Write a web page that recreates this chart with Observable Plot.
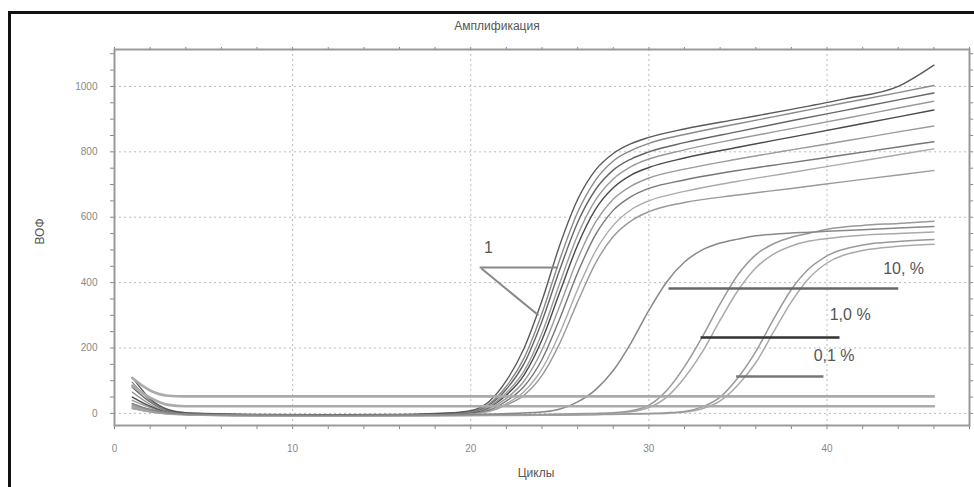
<!DOCTYPE html>
<html><head><meta charset="utf-8">
<script src="https://cdn.jsdelivr.net/npm/d3@7"></script>
<script src="https://cdn.jsdelivr.net/npm/@observablehq/plot@0.6"></script>
<style>
html,body{margin:0;padding:0;background:#fff;}
#wrap{position:relative;width:974px;height:487px;overflow:hidden;font-family:"Liberation Sans",Arial,sans-serif;}
#chart{position:absolute;left:0;top:0;}
#border{position:absolute;left:8px;top:11px;width:1000px;height:500px;border-top:3px solid #111;border-left:3px solid #111;}
#title{position:absolute;left:0;width:994px;top:19px;text-align:center;font-size:12px;color:#555;}
</style></head><body>
<div id="wrap"><div id="chart"></div><div id="border"></div><div id="title">Амплификация</div></div>
<script>
// ---- data ----
const cyclesA = [1,2,3,4,5,8,12,16,19,20,21,22,23,24,25,26,27,28,29,30,32,35,38,41,44,46];
const a1 = [110,45,12,2,0,-3,-4,-3,2, 8,35,100,200,345,515,654,744,795,825,844, 870,900,930,962,1000,1065];
const a2 = [95,40,10,2,-1,-4,-5,-4,1, 6,28,83,170,306,471,615,713,772,804,826, 853,886,918,950,981,1003];
const a3 = [80,35,8,0,-2,-5,-6,-4,1, 5,25,74,153,282,440,584,684,744,778,800, 828,862,895,927,959,980];
const a4 = [65,28,6,0,-3,-6,-6,-5,0, 4,20,63,130,246,399,545,652,717,755,778, 806,840,871,902,934,955];
const a5 = [50,22,4,-1,-3,-5,-6,-5,0, 3,18,56,118,225,371,515,624,690,729,752, 781,814,845,876,907,928];
const a6 = [40,18,3,-2,-4,-6,-7,-5,0, 2,14,46,99,194,329,472,584,655,695,720, 747,778,806,833,861,879];
const a7 = [30,12,2,-2,-4,-6,-7,-6,0, 2,10,38,83,165,290,430,546,621,663,688, 714,743,767,791,815,831];
const a8 = [20,8,0,-3,-5,-7,-8,-6,0, 2,8,30,67,136,246,379,496,575,623,650, 679,710,737,764,791,809];
const a9 = [15,5,-1,-3,-5,-7,-8,-6,0, 1,6,26,56,116,215,341,459,541,589,617, 645,668,688,709,729,743];

const cyclesL = [1,2,3,4,5,8,12,16,20,24,26,27,28,29,30,31,32,33,34,35,36,37,38,39,40,42,44,46];
const b1 = [30,12,2,-2,-3,-5,-6,-5,-3,4,35,72,131,216,315,402,463,500,521,533,543,548,552,554,557,562,567,572];
const c1 = [25,10,1,-3,-4,-6,-7,-6,-5,-3,-1,0,2,8,25,70,143,234,335,424,485,519,539,551,563,575,581,588];
const c2 = [20,8,0,-3,-5,-7,-8,-7,-6,-4,-2,-1,1,5,18,50,109,188,285,376,445,487,512,527,535,545,550,555];
const d1 = [18,6,-1,-4,-5,-7,-8,-7,-6,-5,-4,-3,-2,-1,0,2,6,20,50,109,189,288,379,443,482,515,526,532];
const d2 = [15,5,-2,-4,-6,-8,-9,-8,-7,-6,-5,-4,-3,-2,-1,0,4,14,38,87,155,249,341,414,460,498,511,517];

const cyclesF = [1,2,3,4,10,20,30,40,46];
const f1 = [108,70,54,52,52,52,52,52,52];
const f2 = [85,48,26,22,22,22,22,22,22];

const xTicks = [0,10,20,30,40];
const yTicks = [0,200,400,600,800,1000];

// annotation segments (data coordinates)
const annoX1 = [20.5, 20.6, 31.1, 32.9, 34.9];
const annoY1 = [446, 443, 382, 232, 113];
const annoX2 = [24.9, 23.8, 44.0, 40.7, 39.8];
const annoY2 = [446, 300, 382, 232, 113];
const labelText = ["1", "10, %", "1,0 %", "0,1 %"];
const labelX = [21.0, 44.3, 41.3, 40.4];
const labelY = [505, 443, 300, 177];

// ---- build ----
const series = [
  ["a9", cyclesA, a9], ["a8", cyclesA, a8], ["a7", cyclesA, a7], ["a6", cyclesA, a6],
  ["a5", cyclesA, a5], ["a4", cyclesA, a4], ["a3", cyclesA, a3], ["a2", cyclesA, a2], ["a1", cyclesA, a1],
  ["d2", cyclesL, d2], ["d1", cyclesL, d1], ["c2", cyclesL, c2], ["c1", cyclesL, c1], ["b1", cyclesL, b1],
  ["f2", cyclesF, f2], ["f1", cyclesF, f1]
];
const lineStyle = {
  a1:["#5a5a5a",1.4], a2:["#8a8a8a",1.4], a3:["#666",1.4], a4:["#999",1.4], a5:["#4a4a4a",1.4],
  a6:["#9a9a9a",1.4], a7:["#777",1.4], a8:["#aaa",1.4], a9:["#999",1.4],
  b1:["#888",1.5], c1:["#999",1.5], c2:["#aaa",1.5], d1:["#999",1.5], d2:["#aaa",1.5],
  f1:["#aaa",2.6], f2:["#aaa",2.6]
};
const lineMarks = series.map(([name, cs, vs]) => {
  const rows = cs.map((c, i) => ({cycle: c, value: vs[i]}));
  return Plot.line(rows, {x: "cycle", y: "value", curve: "monotone-x",
    stroke: lineStyle[name][0], strokeWidth: lineStyle[name][1]});
});
const annoColors = ["#888", "#888", "#666", "#333", "#777"];
const annoWidths = [2, 2, 2.6, 2.6, 2.6];
const annoMarks = annoX1.map((x1, i) => Plot.link([{x1, y1: annoY1[i], x2: annoX2[i], y2: annoY2[i]}],
  {x1: "x1", y1: "y1", x2: "x2", y2: "y2", stroke: annoColors[i], strokeWidth: annoWidths[i]}));
const labels = labelText.map((t, i) => ({t, x: labelX[i], y: labelY[i]}));

const minorX = d3.range(0, 49, 2);
const minorY = d3.range(0, 1101, 50);

const chart = Plot.plot({
  width: 974, height: 487,
  marginLeft: 114, marginRight: 5, marginTop: 49, marginBottom: 62,
  style: {fontFamily: "'Liberation Sans', Arial, sans-serif", background: "transparent"},
  x: {domain: [0, 48], label: null},
  y: {domain: [-37, 1113], label: null},
  marks: [
    Plot.gridX(xTicks.slice(1), {stroke: "#bbb", strokeOpacity: 1, strokeDasharray: "2,3"}),
    Plot.gridY(yTicks, {stroke: "#bbb", strokeOpacity: 1, strokeDasharray: "2,3"}),
    ...lineMarks,
    ...annoMarks,
    Plot.text(labels, {x: "x", y: "y", text: "t", fontSize: 16, fill: "#555", textAnchor: "middle"}),
    Plot.axisX(xTicks, {anchor: "bottom", tickSize: 0, tickPadding: 19, fontSize: 10, fill: "#888", tickFormat: d => String(d), label: null}),
    Plot.axisY(yTicks, {anchor: "left", tickSize: 0, tickPadding: 17, fontSize: 10, fill: "#888", tickFormat: d => String(d), label: null}),
    Plot.axisX(minorX, {anchor: "bottom", tickSize: 4, stroke: "#888", tickFormat: () => "", label: null}),
    Plot.axisX(minorX, {anchor: "top", tickSize: 3, stroke: "#888", tickFormat: () => "", label: null}),
    Plot.axisY(minorY, {anchor: "left", tickSize: 4, stroke: "#888", tickFormat: () => "", label: null}),
    Plot.axisY(minorY, {anchor: "right", tickSize: 3, stroke: "#888", tickFormat: () => "", label: null}),
    Plot.frame({stroke: "#999", strokeWidth: 2}),
    Plot.text(["Циклы"], {frameAnchor: "bottom", dx: -6, dy: 51, fontSize: 12, fill: "#555"}),
    Plot.text(["ВОФ"], {frameAnchor: "left", dx: -74, dy: 7, rotate: -90, fontSize: 12, fill: "#555"})
  ]
});
document.getElementById("chart").appendChild(chart);
</script>
</body></html>
